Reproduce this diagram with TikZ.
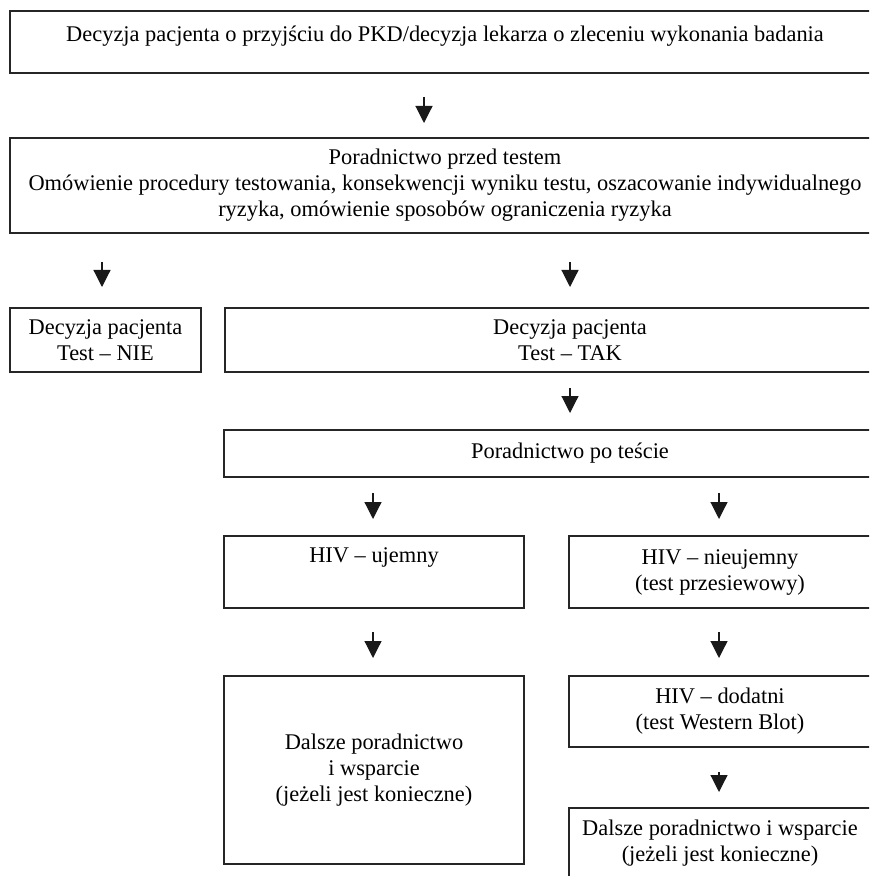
\documentclass[tikz,border=0pt]{standalone}
\usepackage{fontspec}
\setmainfont{Liberation Serif}
\usetikzlibrary{arrows.meta,positioning}

\begin{document}
\begin{tikzpicture}[x=0.5pt,y=-0.5pt,
    box/.style={draw=black!85,line width=0.75pt,inner sep=0pt,outer sep=0pt,
      anchor=north west,align=center,font=\fontsize{11.2}{13}\selectfont},
    arr/.style={-{Triangle[width=8.5pt,length=8.5pt]},line width=0.6pt,black!90}]
  \useasboundingbox (0,0) rectangle (869,876);
  \clip (0,0) rectangle (869,876);
  % boxes
  \node[box,minimum width=435pt,minimum height=31pt] (pkd) at (10,11)
    {Decyzja pacjenta o przyjściu do PKD/decyzja lekarza o zleceniu wykonania badania\\[-9pt]\strut};
  \node[box,minimum width=435pt,minimum height=47.5pt] (przed) at (10,138)
    {Poradnictwo przed testem\\Omówienie procedury testowania, konsekwencji wyniku testu, oszacowanie indywidualnego\\ryzyka, omówienie sposobów ograniczenia ryzyka};
  \node[box,minimum width=95.5pt,minimum height=32pt] (nie) at (10,308)
    {Decyzja pacjenta\\Test -- NIE};
  \node[box,minimum width=345pt,minimum height=32pt] (tak) at (225,308)
    {Decyzja pacjenta\\Test -- TAK};
  \node[box,minimum width=346pt,minimum height=23.5pt] (po) at (224,430)
    {Poradnictwo po teście};
  \node[box,minimum width=150pt,minimum height=36pt] (ujemny) at (224,536)
    {HIV -- ujemny\\\strut};
  \node[box,minimum width=151pt,minimum height=36pt] (nieujemny) at (569,536)
    {HIV -- nieujemny\\(test przesiewowy)};
  \node[box,minimum width=150pt,minimum height=94pt] (dalszeL) at (224,676)
    {Dalsze poradnictwo\\i wsparcie\\(jeżeli jest konieczne)};
  \node[box,minimum width=151pt,minimum height=35.5pt] (dodatni) at (569,676)
    {HIV -- dodatni\\(test Western Blot)};
  \node[box,minimum width=151pt,minimum height=35pt] (dalszeR) at (569,808)
    {Dalsze poradnictwo i wsparcie\\(jeżeli jest konieczne)};
  % arrows
  \draw[arr,shorten <=12pt,shorten >=7.5pt] (424,0 |- pkd.south) -- (424,0 |- przed.north);
  \draw[arr,shorten <=14.5pt,shorten >=10.5pt] (102,0 |- przed.south) -- (102,0 |- nie.north);
  \draw[arr,shorten <=14.5pt,shorten >=10.5pt] (570,0 |- przed.south) -- (570,0 |- tak.north);
  \draw[arr,shorten <=8pt,shorten >=8.5pt] (570,0 |- tak.south) -- (570,0 |- po.north);
  \draw[arr,shorten <=8pt,shorten >=8.5pt] (373,0 |- po.south) -- (373,0 |- ujemny.north);
  \draw[arr,shorten <=8pt,shorten >=8.5pt] (719,0 |- po.south) -- (719,0 |- nieujemny.north);
  \draw[arr,shorten <=12pt,shorten >=9pt] (373,0 |- ujemny.south) -- (373,0 |- dalszeL.north);
  \draw[arr,shorten <=12pt,shorten >=9pt] (719,0 |- nieujemny.south) -- (719,0 |- dodatni.north);
  \draw[arr,shorten <=12.5pt,shorten >=8pt] (719,0 |- dodatni.south) -- (719,0 |- dalszeR.north);
\end{tikzpicture}
\end{document}
